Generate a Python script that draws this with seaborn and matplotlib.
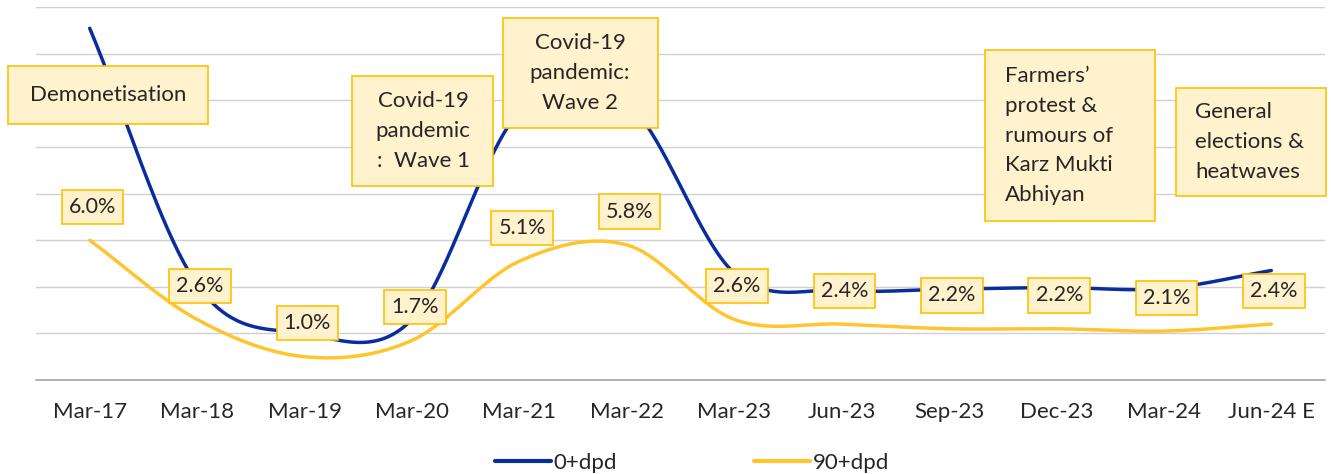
import numpy as np
import pandas as pd
import seaborn as sns
import matplotlib.pyplot as plt
from matplotlib.patches import Rectangle
from matplotlib.lines import Line2D

# data (percent)
periods = ["Mar-17", "Mar-18", "Mar-19", "Mar-20", "Mar-21", "Mar-22",
           "Mar-23", "Jun-23", "Sep-23", "Dec-23", "Mar-24", "Jun-24 E"]
dpd0 = [15.1, 4.1, 2.0, 2.6, 11.5, 11.9, 4.6, 3.85, 3.9, 3.97, 3.92, 4.7]
dpd90 = [6.0, 2.6, 1.0, 1.7, 5.1, 5.8, 2.6, 2.4, 2.2, 2.2, 2.1, 2.4]

BLUE = "#0A2D9E"
GOLD = "#FFC52E"
BOX_FC = "#FFF2CC"
BOX_EC = "#FFC000"
FONT = ["Lato", "DejaVu Sans"]
FS = 16


def smooth(values, n=40):
    """Catmull-Rom curve through the points, like Excel's smoothed line."""
    p = np.asarray(values, dtype=float)
    m = np.empty_like(p)
    m[1:-1] = (p[2:] - p[:-2]) / 2
    m[0] = p[1] - p[0]
    m[-1] = p[-1] - p[-2]
    xs, ys = [], []
    for i in range(len(p) - 1):
        t = np.linspace(0, 1, n, endpoint=False)
        h00 = 2 * t**3 - 3 * t**2 + 1
        h10 = t**3 - 2 * t**2 + t
        h01 = -2 * t**3 + 3 * t**2
        h11 = t**3 - t**2
        xs.append(i + t)
        ys.append(h00 * p[i] + h10 * m[i] + h01 * p[i + 1] + h11 * m[i + 1])
    xs.append([len(p) - 1])
    ys.append([p[-1]])
    return np.concatenate(xs), np.concatenate(ys)


sns.set_theme(style="white")
plt.rcParams["font.family"] = FONT

W, H = 1331, 474
fig = plt.figure(figsize=(W / 100, H / 100), dpi=100)
ax = fig.add_axes([36 / W, 1 - 380 / H, 1289 / W, 372.7 / H])

frames = []
for name, vals in [("0+dpd", dpd0), ("90+dpd", dpd90)]:
    x, y = smooth(vals)
    frames.append(pd.DataFrame({"x": x, "y": y, "series": name}))
curves = pd.concat(frames, ignore_index=True)

sns.lineplot(data=curves, x="x", y="y", hue="series", hue_order=["90+dpd", "0+dpd"],
             palette={"0+dpd": BLUE, "90+dpd": GOLD}, linewidth=2.5,
             sort=False, estimator=None, legend=False, ax=ax, zorder=3)

ax.set_xlim(-0.5, len(periods) - 0.5)
ax.set_ylim(0, 16)
ax.set_yticks(np.arange(0, 17, 2))
ax.set_yticklabels([])
ax.tick_params(axis="y", length=0)
ax.grid(axis="y", color="#D0D0D0", linewidth=1)
ax.set_axisbelow(True)
for side in ["left", "right", "top"]:
    ax.spines[side].set_visible(False)
ax.spines["bottom"].set_color("#A6A6A6")
ax.spines["bottom"].set_linewidth(1.2)

ax.set_xticks(range(len(periods)))
ax.set_xticklabels(periods, fontsize=FS)
ax.set_xticks(np.arange(-0.5, len(periods)), minor=True)
ax.tick_params(axis="x", which="major", length=0, pad=16)
ax.tick_params(axis="x", which="minor", length=7, color="#A6A6A6", width=1.2)
ax.set_xlabel("")
ax.set_ylabel("")

# value labels for 90+dpd
for i, v in enumerate(dpd90):
    ax.annotate(f"{v:.1f}%", (i, v), xytext=(2, 24), textcoords="offset points",
                ha="center", va="center", fontsize=FS - 0.5, zorder=6,
                bbox=dict(boxstyle="square,pad=0.33", fc=BOX_FC, ec=BOX_EC, lw=1.2))


def event_box(x0, y0, x1, y1, text, tx, ha="center"):
    # x0..y1 in image pixels (y downwards)
    fig.patches.append(Rectangle((x0 / W, 1 - y1 / H), (x1 - x0) / W, (y1 - y0) / H,
                                 transform=fig.transFigure, fc=BOX_FC, ec=BOX_EC,
                                 lw=1.2, zorder=5))
    fig.text(tx / W, 1 - (y0 + y1) / 2 / H, text, ha=ha, va="center",
             fontsize=FS, linespacing=1.6, zorder=6)


event_box(8, 66, 208, 124, "Demonetisation", 108)
event_box(352, 76, 493, 186, "Covid-19\npandemic\n:  Wave 1", 423)
event_box(503, 18, 658, 128, "Covid-19\npandemic:\nWave 2", 580)
event_box(985, 50, 1155, 221, "Farmers’\nprotest &\nrumours of\nKarz Mukti\nAbhiyan", 1005, ha="left")
event_box(1176, 88, 1326, 196, "General\nelections &\nheatwaves", 1195, ha="left")

handles = [Line2D([], [], color=BLUE, lw=3), Line2D([], [], color=GOLD, lw=3)]
fig.legend(handles, ["0+dpd", "90+dpd"], loc="center", bbox_to_anchor=(692 / W, 1 - 463 / H),
           ncol=2, frameon=False, fontsize=FS, handlelength=2.5, handletextpad=0.12,
           columnspacing=6.2)

fig.savefig("out.png", dpi=100)
